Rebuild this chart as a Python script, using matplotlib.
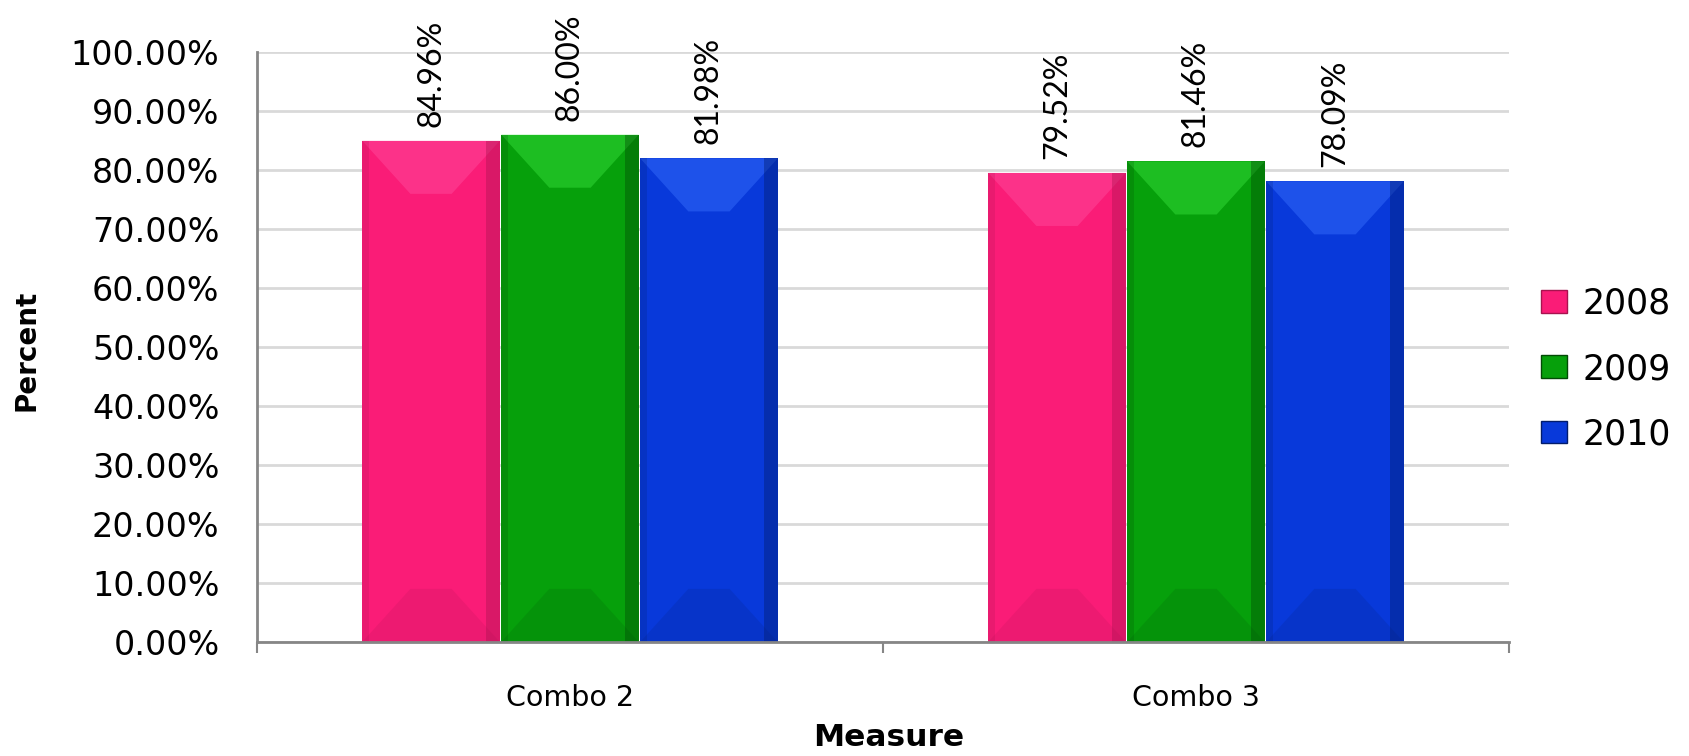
import matplotlib
matplotlib.use("Agg")
import matplotlib.pyplot as plt
from matplotlib.patches import Polygon, Patch
from matplotlib.ticker import FixedLocator, PercentFormatter
import numpy as np

categories = ["Combo 2", "Combo 3"]
years = ["2008", "2009", "2010"]
values_2008 = [84.96, 79.52]
values_2009 = [86.00, 81.46]
values_2010 = [81.98, 78.09]
series = [values_2008, values_2009, values_2010]
colors = ["#FA1C77", "#06A00B", "#0839DA"]
light = ["#FF4FA0", "#3BE33F", "#3A72FF"]
dark = ["#A8124F", "#024A05", "#021C6B"]

fig = plt.figure(figsize=(16.9, 7.56), dpi=100)
ax = fig.add_axes([257 / 1690, 1 - 642 / 756, (1509 - 257) / 1690, (642 - 52) / 756])

x = np.arange(len(categories))
bw = 0.222
offsets = [-bw, 0, bw]
for i, (vals, col) in enumerate(zip(series, colors)):
    bars = ax.bar(x + offsets[i], vals, width=bw * 0.99, color=col, zorder=3, label=years[i])
    for b, v in zip(bars, vals):
        x0, w, h = b.get_x(), b.get_width(), b.get_height()
        bev = w * 0.35
        bevh = 9.0
        # top bevel (lighter)
        ax.add_patch(Polygon([[x0, h], [x0 + w, h], [x0 + w - bev, h - bevh], [x0 + bev, h - bevh]],
                             closed=True, facecolor=light[i], edgecolor="none", alpha=0.45, zorder=4))
        # bottom bevel (darker)
        ax.add_patch(Polygon([[x0, 0], [x0 + w, 0], [x0 + w - bev, bevh], [x0 + bev, bevh]],
                             closed=True, facecolor=dark[i], edgecolor="none", alpha=0.15, zorder=4))
        # right edge shade
        ax.add_patch(Polygon([[x0 + w * 0.9, 0], [x0 + w, 0], [x0 + w, h], [x0 + w * 0.9, h]],
                             closed=True, facecolor=dark[i], edgecolor="none", alpha=0.4, zorder=4))
        # left edge shade
        ax.add_patch(Polygon([[x0, 0], [x0 + w * 0.05, 0], [x0 + w * 0.05, h], [x0, h]],
                             closed=True, facecolor=dark[i], edgecolor="none", alpha=0.2, zorder=4))
        ax.annotate(f"{v:.2f}%", (b.get_x() + w / 2, h), xytext=(0, 10), textcoords="offset points",
                    rotation=90, ha="center", va="bottom", fontsize=23,
                    family=["Lato", "DejaVu Sans"], color="black")

ax.set_xlim(-0.5, len(categories) - 0.5)
ax.set_ylim(0, 100)
ax.yaxis.set_major_locator(FixedLocator(np.arange(0, 101, 10)))
ax.yaxis.set_major_formatter(PercentFormatter(100, decimals=2))
ax.set_xticks(x)
ax.set_xticklabels(categories, fontsize=20.5)
ax.xaxis.set_minor_locator(FixedLocator(np.arange(-0.5, len(categories), 1.0)))
ax.tick_params(axis="x", which="major", length=0, pad=30)
ax.tick_params(axis="x", which="minor", length=8, width=1.5, color="#868686", direction="out")
ax.tick_params(axis="y", length=0, labelsize=24, pad=27)
ax.grid(axis="y", color="#D9D9D9", linewidth=2, zorder=0)
ax.set_axisbelow(True)
for s in ["top", "right"]:
    ax.spines[s].set_visible(False)
for s in ["left", "bottom"]:
    ax.spines[s].set_color("#868686")
    ax.spines[s].set_linewidth(2)
    ax.spines[s].set_zorder(5)

fig.text(27 / 1690, 1 - 350 / 756, "Percent", rotation=90, ha="center", va="center",
         fontsize=20, fontweight="bold")
fig.text(889 / 1690, 1 - 738 / 756, "Measure", ha="center", va="center",
         fontsize=22.5, fontweight="bold")

handles = [Patch(facecolor=c, edgecolor=d, linewidth=1) for c, d in zip(colors, dark)]
fig.legend(handles, years, loc="center left", bbox_to_anchor=(1541 / 1690, 1 - 369 / 756),
           frameon=False, fontsize=25, handlelength=0.75, handleheight=0.63,
           handletextpad=0.45, labelspacing=0.9, borderpad=0, borderaxespad=0)

fig.savefig("out.png", dpi=100)
